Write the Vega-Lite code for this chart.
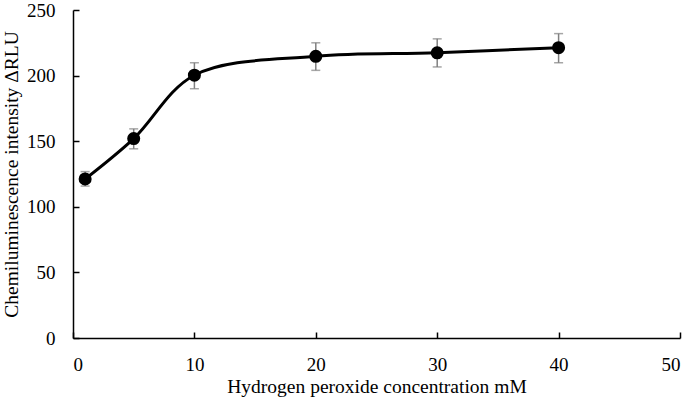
{
  "$schema": "https://vega.github.io/schema/vega-lite/v6.json",
  "autosize": "none",
  "padding": {"left": 73, "top": 10, "right": 5, "bottom": 64},
  "width": 607,
  "height": 328,
  "background": "white",
  "config": {
    "view": {"stroke": null},
    "font": "Liberation Serif, Times New Roman, serif",
    "axis": {
      "grid": false,
      "domainColor": "black",
      "domainWidth": 1.5,
      "tickColor": "black",
      "tickWidth": 1.5,
      "labelFont": "Liberation Serif, Times New Roman, serif",
      "titleFont": "Liberation Serif, Times New Roman, serif",
      "labelFontSize": 19,
      "titleFontSize": 19.5,
      "titleFontWeight": "normal",
      "labelColor": "black",
      "titleColor": "black"
    }
  },
  "data": {
    "values": [
      {"conc": 1, "rlu": 121.2, "lo": 115.8, "hi": 126.8},
      {"conc": 5, "rlu": 152, "lo": 144.2, "hi": 159.4},
      {"conc": 10, "rlu": 200.3, "lo": 190, "hi": 209.8},
      {"conc": 20, "rlu": 214.7, "lo": 204, "hi": 225},
      {"conc": 30, "rlu": 217.4, "lo": 206.6, "hi": 228},
      {"conc": 40, "rlu": 221.3, "lo": 209.8, "hi": 232}
    ]
  },
  "encoding": {
    "x": {
      "field": "conc", "type": "quantitative",
      "scale": {"domain": [0, 50], "nice": false, "zero": true},
      "axis": {"values": [0, 10, 20, 30, 40, 50], "tickSize": -6, "labelPadding": 23, "title": "Hydrogen peroxide concentration mM", "titlePadding": 3}
    }
  },
  "layer": [
    {
      "mark": {"type": "rule", "color": "#808080", "strokeWidth": 1.5},
      "encoding": {
        "y": {"field": "lo", "type": "quantitative",
          "scale": {"domain": [0, 250], "nice": false},
          "axis": {"values": [0, 50, 100, 150, 200, 250], "tickSize": -6, "labelPadding": 24, "title": "Chemiluminescence intensity ΔRLU", "titlePadding": 5}},
        "y2": {"field": "hi"}
      }
    },
    {
      "mark": {"type": "tick", "orient": "horizontal", "color": "#808080", "thickness": 1.5, "size": 9},
      "encoding": {"y": {"field": "lo", "type": "quantitative"}}
    },
    {
      "mark": {"type": "tick", "orient": "horizontal", "color": "#808080", "thickness": 1.5, "size": 9},
      "encoding": {"y": {"field": "hi", "type": "quantitative"}}
    },
    {
      "mark": {"type": "line", "color": "black", "strokeWidth": 3, "interpolate": "catmull-rom"},
      "encoding": {"y": {"field": "rlu", "type": "quantitative"}}
    },
    {
      "mark": {"type": "point", "filled": true, "color": "black", "opacity": 1, "size": 170},
      "encoding": {"y": {"field": "rlu", "type": "quantitative"}}
    }
  ]
}
